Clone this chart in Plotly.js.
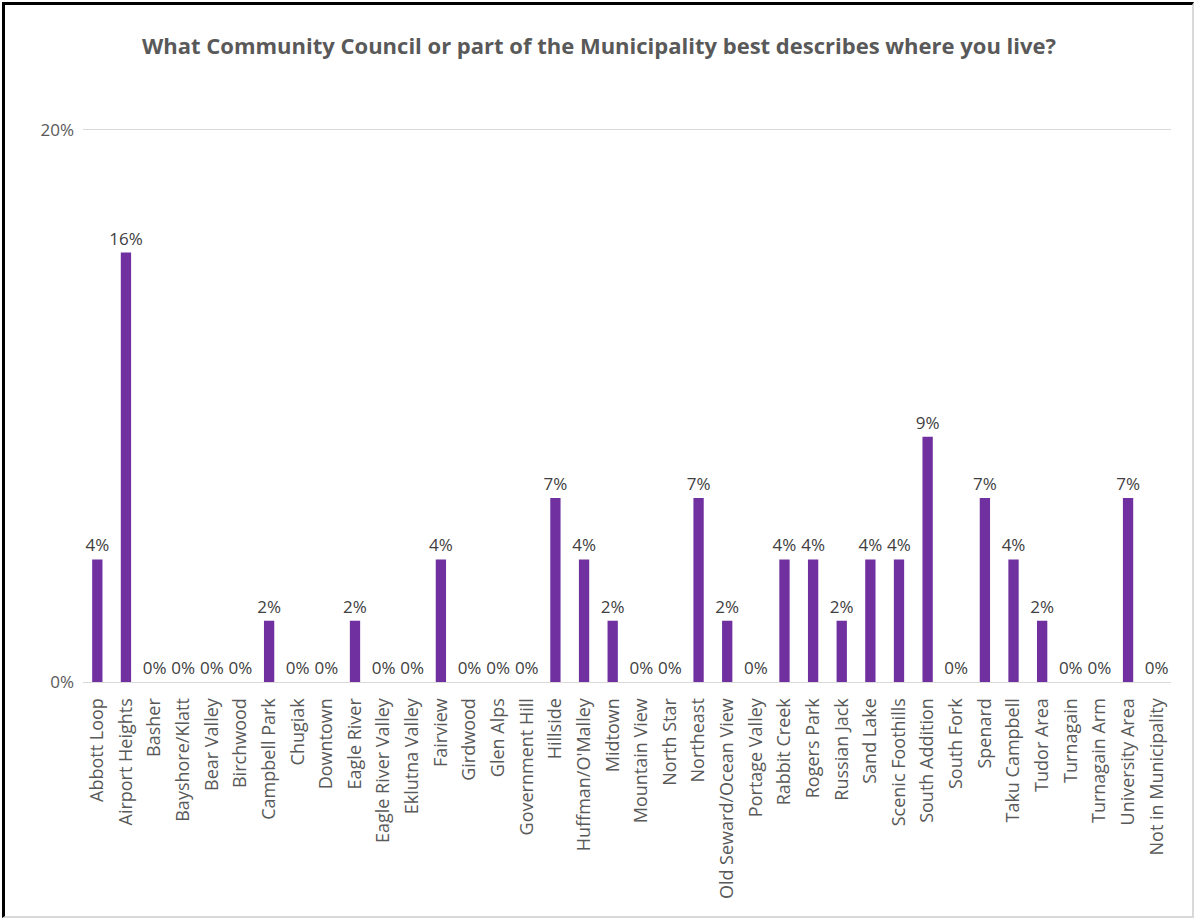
<!DOCTYPE html>
<html>
<head>
<meta charset="utf-8">
<script src="https://cdn.plot.ly/plotly-3.0.1.min.js"></script>
<style>
  html, body { margin: 0; padding: 0; background: #fff; }
  #wrap { position: relative; width: 1198px; height: 921px; }
  #chart { width: 1198px; height: 921px; }
  #frame { position: absolute; left: 2px; top: 2px; width: 1192px; height: 916px;
           border-top: 3px solid #000; border-left: 3px solid #000;
           border-right: 2px solid #d9d9d9; border-bottom: 2px solid #d9d9d9;
           box-sizing: border-box; pointer-events: none; }
</style>
</head>
<body>
<div id="wrap">
  <div id="chart"></div>
  <div id="frame"></div>
</div>
<script>
const categories = [
  "Abbott Loop", "Airport Heights", "Basher", "Bayshore/Klatt", "Bear Valley", "Birchwood",
  "Campbell Park", "Chugiak", "Downtown", "Eagle River", "Eagle River Valley", "Eklutna Valley",
  "Fairview", "Girdwood", "Glen Alps", "Government Hill", "Hillside", "Huffman/O'Malley",
  "Midtown", "Mountain View", "North Star", "Northeast", "Old Seward/Ocean View", "Portage Valley",
  "Rabbit Creek", "Rogers Park", "Russian Jack", "Sand Lake", "Scenic Foothills", "South Addition",
  "South Fork", "Spenard", "Taku Campbell", "Tudor Area", "Turnagain", "Turnagain Arm",
  "University Area", "Not in Municipality"
];
const shares = [
  0.0444, 0.1556, 0, 0, 0, 0,
  0.0222, 0, 0, 0.0222, 0, 0,
  0.0444, 0, 0, 0, 0.0667, 0.0444,
  0.0222, 0, 0, 0.0667, 0.0222, 0,
  0.0444, 0.0444, 0.0222, 0.0444, 0.0444, 0.0889,
  0, 0.0667, 0.0444, 0.0222, 0, 0,
  0.0667, 0
];
const yTicks = [0, 0.2];

const font = "Open Sans, Noto Sans, sans-serif";

const trace = {
  type: "bar",
  x: categories,
  y: shares,
  marker: { color: "#7030A0" },
  texttemplate: "%{y:.0%}",
  textposition: "outside",
  textangle: 0,
  constraintext: "none",
  cliponaxis: false,
  textfont: { family: font, size: 17, color: "#404040" },
  hoverinfo: "x+y"
};

const layout = {
  width: 1198,
  height: 921,
  paper_bgcolor: "#ffffff",
  plot_bgcolor: "#ffffff",
  margin: { l: 83, r: 27, t: 130, b: 239 },
  bargap: 0.64,
  showlegend: false,
  title: {
    text: "<b>What Community Council or part of the Municipality best describes where you live?</b>",
    font: { family: font, size: 22, color: "#595959" },
    x: 0.5, xanchor: "center",
    y: 1 - 46 / 921, yanchor: "middle"
  },
  xaxis: {
    type: "category",
    tickangle: -90,
    tickfont: { family: font, size: 18, color: "#595959" },
    showline: true,
    mirror: true,
    linecolor: "#d9d9d9",
    linewidth: 1,
    ticks: "",
    ticklabelstandoff: 8,
    showgrid: false,
    automargin: false
  },
  yaxis: {
    range: [0, 0.2],
    tickvals: yTicks,
    tickformat: ".0%",
    tickfont: { family: font, size: 17, color: "#595959" },
    showgrid: true,
    gridcolor: "#d9d9d9",
    zeroline: false,
    showline: false,
    ticks: "",
    ticklabelstandoff: 8,
    automargin: false
  }
};

Plotly.newPlot("chart", [trace], layout, { displayModeBar: false, staticPlot: true });
</script>
</body>
</html>
